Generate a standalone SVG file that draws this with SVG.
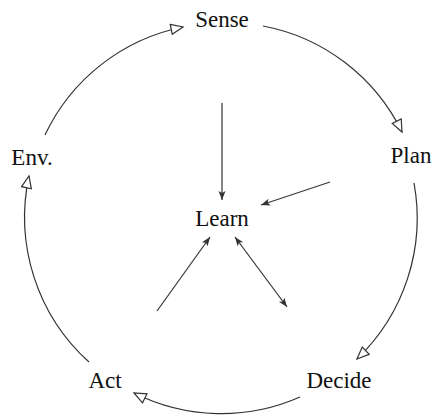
<svg xmlns="http://www.w3.org/2000/svg" width="433" height="416" viewBox="0 0 433 416">
<style>
  text { font-family: "Liberation Serif", "Times New Roman", serif; font-size: 23px; fill: #111; text-anchor: middle; }
  .arc { fill: none; stroke: #333; stroke-width: 1.2; marker-end: url(#open); }
  .ln { fill: none; stroke: #333; stroke-width: 1.2; }
</style>
<defs>
  <marker id="open" markerUnits="userSpaceOnUse" markerWidth="16" markerHeight="14" refX="13" refY="6" orient="auto">
    <path d="M1,1 L13,6 L1,11 z" fill="#fff" stroke="#333" stroke-width="1.2"/>
  </marker>
  <marker id="tip" markerUnits="userSpaceOnUse" markerWidth="12" markerHeight="10" refX="9" refY="4" orient="auto">
    <path d="M0,0.5 L9,4 L0,7.5 L2,4 z" fill="#333"/>
  </marker>
  <marker id="tipS" markerUnits="userSpaceOnUse" markerWidth="12" markerHeight="10" refX="0" refY="4" orient="auto">
    <path d="M9,0.5 L0,4 L9,7.5 L7,4 z" fill="#333"/>
  </marker>
</defs>
<g id="connectors">
  <path class="arc" d="M263,26 A195,195 0 0 1 402,132"/>
  <path class="arc" d="M414,183 A195,195 0 0 1 357,359"/>
  <path class="arc" d="M300,397 A195,195 0 0 1 134,393"/>
  <path class="arc" d="M89,362 A195,195 0 0 1 29,176"/>
  <path class="arc" d="M45,135 A195,195 0 0 1 183,27"/>
  <line class="ln" x1="222" y1="103" x2="222" y2="200" marker-end="url(#tip)"/>
  <line class="ln" x1="330" y1="182" x2="261" y2="205" marker-end="url(#tip)"/>
  <line class="ln" x1="157" y1="311" x2="210" y2="237" marker-end="url(#tip)"/>
  <line class="ln" x1="235" y1="237" x2="287" y2="307" marker-start="url(#tipS)" marker-end="url(#tip)"/>
</g>
<g id="sense"><text x="222" y="27">Sense</text></g>
<g id="plan"><text x="411" y="163">Plan</text></g>
<g id="decide"><text x="339" y="388">Decide</text></g>
<g id="act"><text x="105" y="388">Act</text></g>
<g id="env"><text x="32" y="165">Env.</text></g>
<g id="learn"><text x="222" y="226">Learn</text></g>
</svg>
